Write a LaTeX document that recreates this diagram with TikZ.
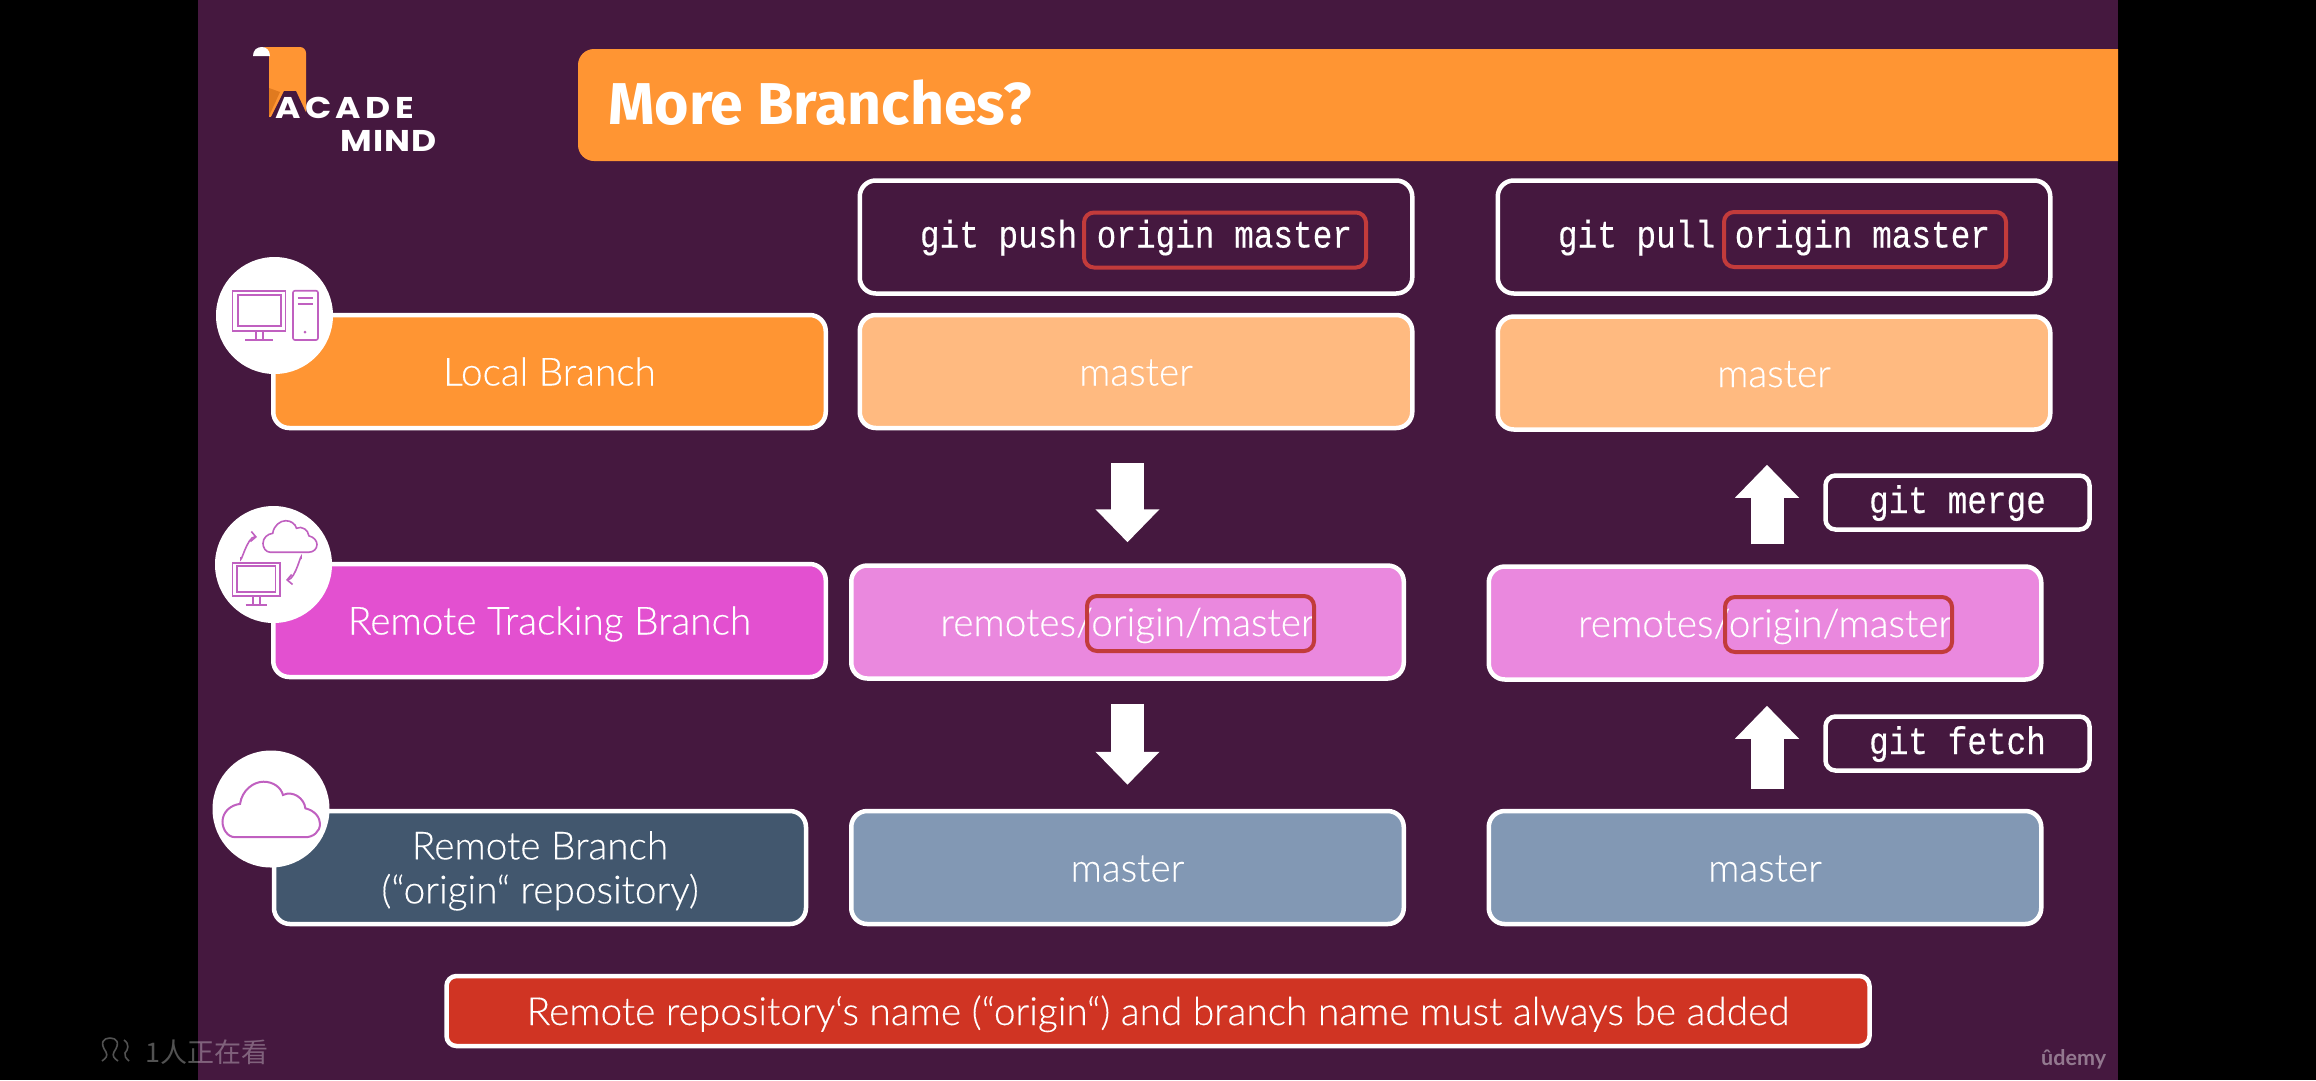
\documentclass[tikz,border=0pt]{standalone}
\usepackage{fontspec}
\setmainfont[FakeBold=0.25]{Lato Light}
\newfontfamily\udemyfont{Lato}
\newfontfamily\titlefont{Fira Sans}
\newfontfamily\codefont[FakeStretch=0.85,FakeBold=0.25]{Liberation Mono}
\newfontfamily\logofont[FakeStretch=1.15]{Poppins}
\newfontfamily\cjkfont{Noto Sans CJK SC}
\usetikzlibrary{arrows.meta,positioning,calc}
\definecolor{slidebg}{HTML}{45183F}
\definecolor{titleorange}{HTML}{FF9533}
\definecolor{paleorange}{HTML}{FFBA80}
\definecolor{trackpink}{HTML}{E350D0}
\definecolor{palepink}{HTML}{EA88DE}
\definecolor{slateblue}{HTML}{42576E}
\definecolor{paleblue}{HTML}{8298B4}
\definecolor{bannerred}{HTML}{D03423}
\definecolor{markred}{HTML}{C23B3B}
\definecolor{iconpink}{HTML}{C060C0}
\definecolor{scrolldark}{HTML}{E07A1F}
\tikzset{
  cloudicon/.pic={
    \draw (.13,1) .. controls (.05,1) and (0,.85) .. (0,.72) .. controls (0,.55) and (.08,.42) .. (.18,.40)
      .. controls (.2,.15) and (.32,0) .. (.42,0) .. controls (.52,0) and (.6,.1) .. (.62,.24)
      .. controls (.72,.15) and (.84,.3) .. (.85,.48) .. controls (.95,.52) and (1,.65) .. (1,.76)
      .. controls (1,.9) and (.93,1) .. (.85,1) -- cycle;
  }
}
\begin{document}
\begin{tikzpicture}[
    x=1pt, y=-1pt,
    % --- styles ---
    branch/.style={rectangle, draw=white, line width=4.5pt, rounded corners=16pt, inner sep=0pt,
                   minimum width=552.5pt, minimum height=113pt, align=center, text=white,
                   text height=32pt, text depth=4pt, font=\fontsize{38.8}{44}\selectfont},
    command/.style={branch, fill=slidebg, text height=29pt, text depth=8pt, font=\fontsize{38.5}{44}\codefont},
    smallcmd/.style={command, minimum width=264pt, minimum height=54pt, rounded corners=10pt},
    redmark/.style={rectangle, draw=markred, line width=4pt, rounded corners=10pt, inner sep=0pt,
                    minimum height=55pt},
    badge/.style={circle, fill=white, minimum size=117pt, inner sep=0pt},
    icon/.style={draw=iconpink, line width=1.6pt},
    logotext/.style={text=white, anchor=base west, inner sep=0pt},
    bigarrow/.style={draw=white, line width=33pt, -{Triangle[length=33pt,width=62pt]}}
  ]
  \useasboundingbox (0,0) rectangle (2316,1080);
  \fill[black] (0,0) rectangle (2316,1080);
  \fill[slidebg] (198,0) rectangle (2118,1080);

  % --- logo ---
  \fill[titleorange] (264,47) [rounded corners=6pt] -- (306,47) [sharp corners] -- (306,112) -- (269,117) -- (269,52) -- cycle;
  \fill[scrolldark] (269,88) -- (269,116) -- (280,92) -- cycle;
  \fill[slidebg] (270,119) -- (284,91) -- (296,91) -- (309,119) -- cycle;
  \fill[white] (253,56) .. controls (253,50) and (257,47) .. (262,47) .. controls (266,47) and (270,50) .. (270,56) -- cycle;
  \node[logotext, font=\fontsize{30}{30}\logofont\bfseries\addfontfeature{LetterSpace=15}] (acade) at (275,118) {ACADE};
  \node[logotext, font=\fontsize{30}{30}\logofont\bfseries\addfontfeature{LetterSpace=4}] (mind) at (340,151) {MIND};

  % --- title ---
  \fill[titleorange] (2118,49) [rounded corners=16pt] -- (578,49) -- (578,161) [sharp corners] -- (2118,161) -- cycle;
  \node[font=\fontsize{59}{60}\titlefont\bfseries, text=white, anchor=base west, inner sep=0pt] (title) at (608,124) {More Branches?};

  % --- left column ---
  \node[branch, fill=titleorange] (local) at (549.5,371.5) {Local Branch};
  \node[branch, fill=trackpink] (track) at (549.5,620.5) {Remote Tracking Branch};
  \node[branch, fill=slateblue, minimum width=532pt, text height=, text depth=] (remote) at (540,867.5) {\rule{0pt}{35pt}Remote Branch\\(“origin“ repository)};

  \node[badge] (localbadge) at (274.5,315.5) {};
  \node[badge] (trackbadge) at (273.5,564.5) {};
  \node[badge] (remotebadge) at (271,809) {};

  % --- push column ---
  \node[command] (pushcmd) at (1136,237) {git push origin master};
  \node[branch, fill=paleorange] (pushlocal) at (1136,371.5) {master};
  \node[branch, fill=palepink] (pushtrack) at (1127.5,622) {remotes/origin/master};
  \node[branch, fill=paleblue] (pushremote) at (1127.5,867.5) {master};

  % --- pull column ---
  \node[command] (pullcmd) at (1774,237) {git pull origin master};
  \node[branch, fill=paleorange] (pulllocal) at (1774,373) {master};
  \node[branch, fill=palepink] (pulltrack) at (1765,623) {remotes/origin/master};
  \node[branch, fill=paleblue] (pullremote) at (1765,867.5) {master};
  \node[smallcmd] (merge) at (1957.5,502.5) {git merge};
  \node[smallcmd] (fetch) at (1957.5,743.5) {git fetch};

  % --- red marks ---
  \node[redmark, minimum width=282pt] (pushmark) at (1225,240) {};
  \node[redmark, minimum width=282pt] (pullmark) at (1865,239.5) {};
  \node[redmark, minimum width=227pt] (pushmarktwo) at (1200.5,623.5) {};
  \node[redmark, minimum width=227pt] (pullmarktwo) at (1838.5,624.5) {};

  % --- arrows ---
  \draw[bigarrow, shorten <=33pt, shorten >=21pt] (pushtrack.north |- pushlocal.south) -- (pushtrack.north);
  \draw[bigarrow, shorten <=23pt, shorten >=24pt] (pushtrack.south) -- (pushtrack.south |- pushremote.north);
  \draw[bigarrow, shorten <=20pt, shorten >=33pt] ([xshift=2pt]pulltrack.north) -- ([xshift=2pt]pulltrack.north |- pulllocal.south);
  \draw[bigarrow, shorten <=20pt, shorten >=24pt] ([xshift=2pt]pullremote.north) -- ([xshift=2pt]pullremote.north |- pulltrack.south);

  % --- banner ---
  \node[branch, fill=bannerred, minimum width=1423pt, minimum height=70pt, rounded corners=10pt] (banner) at (1158,1011) {Remote repository‘s name (“origin“) and branch name must always be added};

  % --- icons ---
  \draw[icon] (232.5,290.7) rectangle (285.4,330.7) (237.7,295) rectangle (281,326)
    (256,331) -- (256,340) (263,331) -- (263,340) (245,340) -- (273,340);
  \draw[icon, rounded corners=2pt] (293,290.7) rectangle (318,340);
  \draw[icon] (297.5,298) -- (313,298) (297.5,304) -- (313,304);
  \fill[iconpink] (305,332) circle (1.5pt);

  \draw[icon] (232.5,562.7) rectangle (280,596) (237,566) rectangle (275.5,591.7)
    (253,596) -- (253,604.7) (260,596) -- (260,604.7) (245.5,604.7) -- (267,604.7);
  \pic[icon, xscale=54, yscale=31.5] at (263,520.7) {cloudicon};
  \draw[icon, -{Straight Barb[length=5pt,width=10pt]}] (241,557) to[out=-95,in=175] (257,537);
  \draw[icon, -{Straight Barb[length=5pt,width=10pt]}] (301,559) to[out=85,in=5] (286,580);

  \pic[icon, line width=2pt, xscale=97.5, yscale=55.5] at (222.5,781.7) {cloudicon};

  % --- overlays ---
  \node[font=\fontsize{27}{27}\cjkfont, text=white, text opacity=.32, anchor=base west, inner sep=0pt] (viewers) at (145,1062) {1人正在看};
  \draw[white, opacity=.32, line width=1.6pt] (102,1061) .. controls (106,1058) and (108,1056) .. (106,1052) .. controls (99,1042) and (104,1038) .. (110,1038)
    .. controls (116,1038) and (121,1042) .. (114,1052) .. controls (112,1056) and (114,1058) .. (118,1061)
    (124,1040) .. controls (130,1044) and (128,1050) .. (125,1053) .. controls (124,1056) and (126,1058) .. (129,1061);
  \node[font=\fontsize{21.5}{22}\udemyfont\bfseries, text=white, text opacity=.42, anchor=base west, inner sep=0pt] (udemy) at (2041,1065) {ûdemy};
\end{tikzpicture}
\end{document}
